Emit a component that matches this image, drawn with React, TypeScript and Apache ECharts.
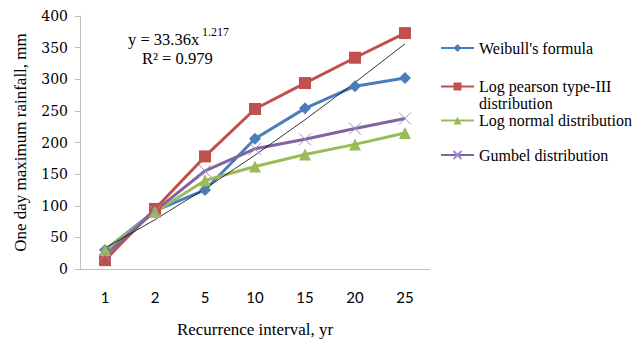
import React, { useEffect, useRef } from "react";
import * as echarts from "echarts";

const categories = ["1", "2", "5", "10", "15", "20", "25"];
const weibull = [30, 92, 125, 206, 254, 289, 302];
const logPearson = [14, 95, 178, 253, 294, 334, 373];
const logNormal = [30, 90, 140, 162, 181, 197, 215];
const gumbel = [22, 92, 155, 190, 205, 222, 238];
const powerTrend = [33, 78, 127, 180, 236, 295, 356];
const yTicks = { min: 0, max: 400, interval: 50 };

const SERIF = '"Liberation Serif", "Times New Roman", serif';

export default function App() {
  const ref = useRef<HTMLDivElement>(null);
  useEffect(() => {
    if (!ref.current) return;
    const chart = echarts.init(ref.current, null, { renderer: "svg" });
    const legendBase = {
      orient: "vertical",
      left: 440,
      padding: 0,
      itemWidth: 33,
      itemHeight: 10,
      textStyle: { fontFamily: SERIF, fontSize: 16, lineHeight: 17, color: "#000" },
      selectedMode: false,
    };
    const xSym = "path://M0,0L10,10M10,0L0,10";
    chart.setOption({
      animation: false,
      backgroundColor: "#fff",
      grid: { left: 80, top: 16, width: 350, bottom: 70.5, containLabel: false },
      xAxis: {
        type: "category",
        data: categories,
        boundaryGap: true,
        axisLine: { lineStyle: { color: "#BFBFBF", width: 1 } },
        axisTick: { show: false },
        axisLabel: { fontFamily: "Lato, sans-serif", fontSize: 15, color: "#000", margin: 20 },
        name: "Recurrence interval, yr",
        nameLocation: "middle",
        nameGap: 52,
        nameTextStyle: { fontFamily: SERIF, fontSize: 17, color: "#000" },
      },
      yAxis: {
        type: "value",
        min: yTicks.min,
        max: yTicks.max,
        interval: yTicks.interval,
        axisLine: { show: true, lineStyle: { color: "#BFBFBF", width: 1 } },
        axisTick: { show: true, length: 5, lineStyle: { color: "#BFBFBF" } },
        splitLine: { show: false },
        axisLabel: { fontFamily: '"DejaVu Serif", serif', fontSize: 14, color: "#000", margin: 12 },
        name: "One day maximum rainfall, mm",
        nameLocation: "middle",
        nameGap: 51,
        nameTextStyle: { fontFamily: SERIF, fontSize: 17, color: "#000" },
      },
      legend: [
        { ...legendBase, top: 39.5, data: ["Weibull's formula"] },
        {
          ...legendBase,
          top: 61,
          data: ["Log pearson type-III distribution"],
          formatter: () => " \nLog pearson type-III\ndistribution",
        },
        { ...legendBase, top: 112, data: ["Log normal distribution"] },
        { ...legendBase, top: 146.5, data: ["Gumbel distribution"] },
      ],
      graphic: [
        {
          type: "text",
          x: 128,
          y: 39,
          style: { text: "y = 33.36x", fontFamily: SERIF, fontSize: 16.5, fill: "#000", verticalAlign: "middle", textVerticalAlign: "middle" },
        },
        {
          type: "text",
          x: 202,
          y: 32,
          style: { text: "1.217", fontFamily: SERIF, fontSize: 12, fill: "#000", verticalAlign: "middle", textVerticalAlign: "middle" },
        },
        {
          type: "text",
          x: 142,
          y: 58,
          style: { text: "R² = 0.979", fontFamily: SERIF, fontSize: 16.5, fill: "#000", verticalAlign: "middle", textVerticalAlign: "middle" },
        },
      ],
      series: [
        {
          name: "Weibull's formula",
          type: "line",
          data: weibull,
          symbol: "diamond",
          symbolSize: 12,
          lineStyle: { color: "#4A7EBB", width: 3 },
          itemStyle: { color: "#4A7EBB" },
        },
        {
          name: "Log pearson type-III distribution",
          type: "line",
          data: logPearson,
          symbol: "rect",
          symbolSize: 12,
          lineStyle: { color: "#C0504D", width: 3 },
          itemStyle: { color: "#C0504D" },
        },
        {
          name: "Log normal distribution",
          type: "line",
          data: logNormal,
          symbol: "triangle",
          symbolSize: 12,
          lineStyle: { color: "#9BBB59", width: 3 },
          itemStyle: { color: "#9BBB59" },
        },
        {
          name: "Gumbel distribution",
          type: "line",
          data: gumbel,
          symbol: xSym,
          symbolSize: 12,
          lineStyle: { color: "#8064A2", width: 3 },
          itemStyle: { color: "#8064A2", borderColor: "#9F8BC4", borderWidth: 1 },
        },
        {
          name: "Power trendline",
          type: "line",
          data: powerTrend,
          symbol: "none",
          lineStyle: { color: "#000", width: 0.8 },
          silent: true,
        },
      ],
    });
    return () => chart.dispose();
  }, []);
  return <div ref={ref} style={{ width: 642, height: 343, position: "absolute", left: 0, top: 0 }} />;
}
